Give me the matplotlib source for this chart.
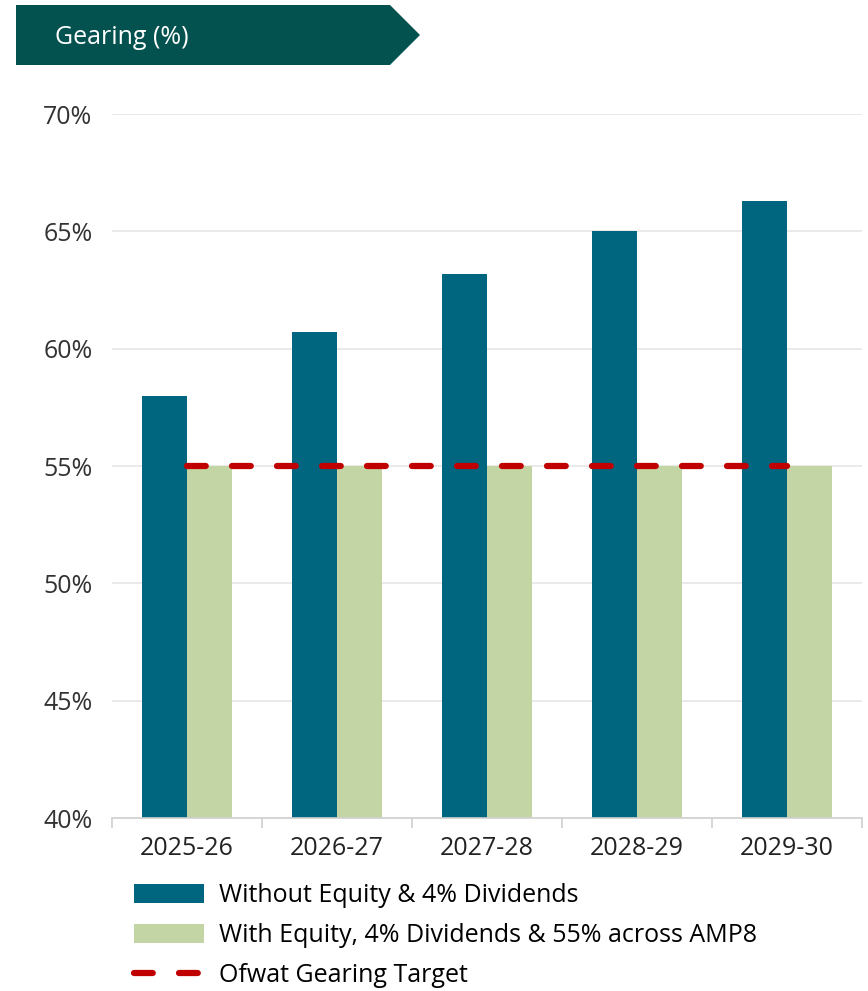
import numpy as np
import matplotlib.pyplot as plt
from matplotlib.patches import Polygon

plt.rcParams['font.family'] = ['Open Sans', 'DejaVu Sans']

# data
years = ['2025-26', '2026-27', '2027-28', '2028-29', '2029-30']
without_equity = [58.0, 60.7, 63.2, 65.0, 66.3]
with_equity = [55.0, 55.0, 55.0, 55.0, 55.0]
ofwat_target = [55.0, 55.0, 55.0, 55.0, 55.0]
yticks = [40, 45, 50, 55, 60, 65, 70]

W, H = 868, 991
fs = 18
fig = plt.figure(figsize=(W / 100, H / 100), dpi=100)
ax = fig.add_axes([112 / W, 1 - 818 / H, 750 / W, 704 / H])

x = np.arange(len(years))
bw = 0.3
b1 = ax.bar(x - bw / 2, without_equity, bw, color='#00657F', label='Without Equity & 4% Dividends', zorder=2)
b2 = ax.bar(x + bw / 2, with_equity, bw, color='#C4D5A5', label='With Equity, 4% Dividends & 55% across AMP8', zorder=2)
ln, = ax.plot(x, ofwat_target, color='#C00000', lw=4.5, dashes=(3.0, 4.2), dash_capstyle='round',
              label='Ofwat Gearing Target', zorder=3)

ax.set_xlim(-0.5, len(years) - 0.5)
ax.set_ylim(40, 70)
ax.set_yticks(yticks)
ax.set_yticklabels([f'{v}%' for v in yticks])
ax.yaxis.grid(True, color='#E6E6E6', lw=1.2, zorder=0)
ax.tick_params(axis='y', length=0, pad=14, labelsize=fs, colors='#333333')

# category labels centred, tick marks at boundaries
ax.set_xticks(x)
ax.set_xticklabels(years)
ax.set_xticks(np.arange(-0.5, len(years)), minor=True)
ax.tick_params(axis='x', which='major', length=0, pad=13, labelsize=fs, colors='#222222')
ax.tick_params(axis='x', which='minor', length=7, color='#D0D0D0', width=1.2)

for s in ['top', 'right', 'left']:
    ax.spines[s].set_visible(False)
ax.spines['bottom'].set_color('#D0D0D0')
ax.spines['bottom'].set_linewidth(1.2)

fig.legend([b1, b2, ln], [b1.get_label(), b2.get_label(), ln.get_label()],
           loc='upper left', bbox_to_anchor=(134 / W, 1 - 883 / H), frameon=False,
           fontsize=fs, handlelength=2.8, handleheight=0.8, handletextpad=0.6,
           labelspacing=0.6, borderpad=0, borderaxespad=0)

# header banner
pts = [(16, 5), (390, 5), (420, 35), (390, 65), (16, 65)]
banner = Polygon([(px / W, 1 - py / H) for px, py in pts], closed=True,
                 transform=fig.transFigure, facecolor='#04524F', edgecolor='none')
fig.patches.append(banner)
fig.text(55 / W, 1 - 37 / H, 'Gearing (%)', color='white', fontsize=fs, va='center', ha='left')

fig.savefig('out.png', dpi=100)
